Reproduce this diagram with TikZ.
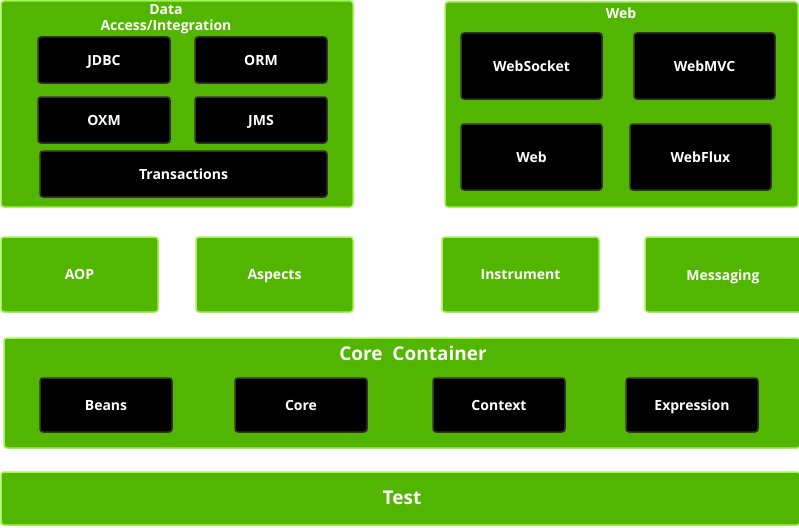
\documentclass[tikz,border=0pt]{standalone}
\usepackage{fontspec}
\setmainfont{Open Sans}
\definecolor{gfill}{HTML}{52B500}
\definecolor{gline}{HTML}{A3F257}
\definecolor{bline}{HTML}{333333}
\begin{document}
\begin{tikzpicture}[x=1pt,y=-1pt,
  gbox/.style={draw=gline,fill=gfill,line width=1.5pt,rounded corners=3pt,inner sep=0pt},
  kbox/.style={draw=bline,fill=black,line width=1.5pt,rounded corners=3pt,inner sep=0pt,
    text=white,font=\fontsize{14}{16}\selectfont\bfseries,text height=10pt,text depth=0pt},
  glab/.style={gbox,text=white,font=\fontsize{14}{16}\selectfont\bfseries,text height=10pt,text depth=0pt},
  lbl/.style={text=white,font=\fontsize{14}{16}\selectfont\bfseries,inner sep=0pt,text height=10pt,text depth=0pt},
  ttl/.style={text=white,font=\fontsize{14}{16}\selectfont\bfseries,inner sep=0pt,align=center},
  big/.style={text=white,font=\fontsize{19}{21}\selectfont\bfseries,inner sep=0pt,text height=13.5pt,text depth=0pt}]
\useasboundingbox (0,0) rectangle (799,527);
% Data Access / Integration
\node[gbox,minimum width=352pt,minimum height=206pt] (da) at (177,104) {};
\node[ttl] (datitle) at (166,19) {Data\\Access/Integration};
\node[kbox,minimum width=132pt,minimum height=46pt] (jdbc) at (104,60) {JDBC};
\node[kbox,minimum width=132pt,minimum height=46pt] (orm) at (261,60) {ORM};
\node[kbox,minimum width=132pt,minimum height=46pt] (oxm) at (104,120) {OXM};
\node[kbox,minimum width=132pt,minimum height=46pt] (jms) at (261,120) {JMS};
\node[kbox,minimum width=287pt,minimum height=46pt] (tx) at (183.5,174) {Transactions};
% Web
\node[gbox,minimum width=353pt,minimum height=205pt] (web) at (621.5,104.5) {};
\node[lbl] (webtitle) at (621,14) {Web};
\node[kbox,minimum width=141pt,minimum height=66pt] (ws) at (531.5,66) {WebSocket};
\node[kbox,minimum width=141pt,minimum height=66pt] (mvc) at (704.5,66) {WebMVC};
\node[kbox,minimum width=141pt,minimum height=66pt] (wb) at (531.5,157) {Web};
\node[kbox,minimum width=141pt,minimum height=66pt] (flux) at (700.5,157) {WebFlux};
% middle row
\node[glab,minimum width=157pt,minimum height=75pt] (aop) at (79.5,274.5) {AOP};
\node[glab,minimum width=157pt,minimum height=75pt] (asp) at (274.5,274.5) {Aspects};
\node[glab,minimum width=157pt,minimum height=75pt] (ins) at (520.5,274.5) {Instrument};
\node[gbox,minimum width=157pt,minimum height=75pt] (msg) at (723.5,274.5) {};
\node[lbl] (msgl) at (723,275) {Messaging};
% Core container
\node[gbox,minimum width=796pt,minimum height=110pt] (cc) at (402,393) {};
\node[big] (cctitle) at (413,354) {Core\ \ Container};
\node[kbox,minimum width=132pt,minimum height=54pt] (beans) at (106,405) {Beans};
\node[kbox,minimum width=132pt,minimum height=54pt] (core) at (301,405) {Core};
\node[kbox,minimum width=132pt,minimum height=54pt] (ctx) at (499,405) {Context};
\node[kbox,minimum width=132pt,minimum height=54pt] (expr) at (692,405) {Expression};
% Test
\node[gbox,minimum width=799pt,minimum height=53pt] (test) at (400.5,498.5) {};
\node[big] (testl) at (402,498) {Test};
\end{tikzpicture}
\end{document}
